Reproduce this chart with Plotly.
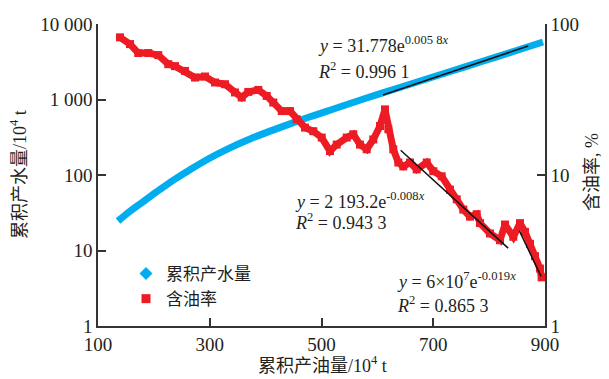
import plotly.graph_objects as go

# Cumulative water production (10^4 t) vs cumulative oil production (10^4 t)
water_x = [135.8, 157.3, 184.1, 211.0, 237.8, 264.7, 300.4, 336.2, 372.0, 407.8,
           443.6, 479.4, 524.2, 577.9, 631.5, 685.2, 738.9, 792.6, 846.3, 896.4]
water_y = [24.6, 33.2, 46.2, 64.3, 88.1, 117.5, 168, 229, 300, 381,
           476, 590, 760, 1030, 1377, 1841, 2459, 3286, 4388, 5776]

# Oil cut (%) vs cumulative oil production
oil_x = [139.4, 157.3, 172.1, 190.0, 207.9, 225.8, 237.8, 255.7, 273.6, 291.5,
         309.4, 327.3, 345.2, 357.2, 369.0, 386.9, 401.9, 413.7, 428.8, 443.6,
         455.6, 470.5, 485.3, 500.4, 515.2, 527.2, 545.1, 556.9, 568.9, 580.9,
         592.7, 604.7, 613.6, 619.6, 628.5, 637.5, 646.4, 658.4, 670.4, 688.3,
         700.1, 715.1, 730.0, 742.0, 753.8, 765.8, 777.8, 783.7, 801.6, 819.5,
         828.4, 843.3, 855.3, 864.2, 873.2, 882.1, 891.0, 894.0]
oil_y = [81.6, 73.6, 64.2, 64.2, 62.2, 54.2, 52.6, 48.9, 44.2, 44.9,
         41.0, 39.9, 35.2, 32.6, 35.5, 36.6, 33.4, 30.2, 26.5, 26.5,
         23.4, 20.6, 19.5, 17.7, 14.4, 15.9, 17.7, 18.6, 15.9, 14.8,
         17.2, 21.1, 27.2, 20.1, 14.8, 12.1, 11.4, 12.1, 10.9, 12.1,
         10.6, 9.8, 8.0, 6.9, 5.9, 5.3, 5.5, 4.8, 4.1, 3.7,
         4.7, 3.9, 4.8, 4.2, 3.5, 2.9, 2.4, 2.1]

# Trend line end points
trend_water_x = [610, 870]
trend_water_y = [1148, 5115]
trend_oil1_x = [641.7, 834]
trend_oil1_y = [14.6, 3.28]
trend_oil2_x = [854, 893]
trend_oil2_y = [4.28, 2.13]

left_ticks = [1, 10, 100, 1000, 10000]
left_text = ["1", "10", "100", "1 000", "10 000"]
right_ticks = [1, 10, 100]
right_text = ["1", "10", "100"]
x_ticks = [100, 300, 500, 700, 900]

BLUE = "#00AEEF"
RED = "#ED1C24"
AX = "#333333"
TXT = "#231F20"
FONT = "Liberation Serif, Noto Sans CJK SC, serif"

fig = go.Figure()
fig.add_trace(go.Scatter(x=water_x, y=water_y, mode="lines",
                         line=dict(color=BLUE, width=7, shape="spline", smoothing=1),
                         showlegend=False, yaxis="y"))
fig.add_trace(go.Scatter(x=oil_x, y=oil_y, mode="lines+markers",
                         line=dict(color=RED, width=7),
                         marker=dict(symbol="square", size=8, color=RED),
                         showlegend=False, yaxis="y2"))
for tx, ty, ax in [(trend_water_x, trend_water_y, "y"),
                   (trend_oil1_x, trend_oil1_y, "y2"),
                   (trend_oil2_x, trend_oil2_y, "y2")]:
    fig.add_trace(go.Scatter(x=tx, y=ty, mode="lines",
                             line=dict(color="#111111", width=1.5),
                             showlegend=False, yaxis=ax))
# legend entries
fig.add_trace(go.Scatter(x=[None], y=[None], mode="markers", name="累积产水量",
                         marker=dict(symbol="diamond", size=10, color=BLUE)))
fig.add_trace(go.Scatter(x=[None], y=[None], mode="markers", name="含油率",
                         marker=dict(symbol="square", size=9, color=RED)))

def px2x(px):
    return (px - 98) / 447.0

def py2y(py):
    return (326 - py) / 302.0

ann = []
def add(text, px, py, size=18, xanchor="left", angle=0):
    ann.append(dict(text=text, x=px2x(px), y=py2y(py), xref="paper", yref="paper",
                    xanchor=xanchor, yanchor="middle", showarrow=False,
                    textangle=angle, font=dict(size=size, color=TXT, family=FONT)))

add("<i>y</i> = 31.778e<sup>0.005 8<i>x</i></sup>", 316, 44)
add("<i>R</i><sup>2</sup> = 0.996 1", 316, 70)
add("<i>y</i> = 2 193.2e<sup>-0.008<i>x</i></sup>", 293, 200)
add("<i>R</i><sup>2</sup> = 0.943 3", 293, 221)
add("<i>y</i> = 6×10<sup>7</sup>e<sup>-0.019<i>x</i></sup>", 395, 280)
add("<i>R</i><sup>2</sup> = 0.865 3", 395, 304)
add("累积产水量/10<sup>4</sup> t", 18, 175, xanchor="center", angle=-90)
add("含油率, %", 592, 172, xanchor="center", angle=-90)
add("累积产油量/10<sup>4</sup> t", 322, 364, xanchor="center")

fig.update_layout(
    width=609, height=379,
    margin=dict(l=98, r=64, t=24, b=53),
    paper_bgcolor="white", plot_bgcolor="white",
    font=dict(family=FONT, size=18, color=TXT),
    annotations=ann,
    legend=dict(x=px2x(126), y=py2y(256), xanchor="left", yanchor="top",
                bgcolor="rgba(0,0,0,0)", font=dict(size=17, color=TXT, family=FONT),
                itemwidth=30, tracegroupgap=0),
    xaxis=dict(range=[100, 900], tickvals=x_ticks, ticks="inside", ticklen=8,
               tickwidth=1.5, tickcolor=AX, showline=True, linecolor=AX, linewidth=1.5,
               showgrid=False, zeroline=False, mirror=False,
               tickfont=dict(size=19, color=TXT, family=FONT)),
    yaxis=dict(type="log", range=[0, 4], tickvals=left_ticks, ticktext=left_text,
               ticks="inside", ticklen=8, tickwidth=1.5, tickcolor=AX,
               showline=True, linecolor=AX, linewidth=1.5, showgrid=False,
               zeroline=False, tickfont=dict(size=19, color=TXT, family=FONT)),
    yaxis2=dict(type="log", range=[0, 2], tickvals=right_ticks, ticktext=right_text,
                overlaying="y", side="right", ticks="inside", ticklen=8, tickwidth=1.5,
                tickcolor=AX, showline=True, linecolor=AX, linewidth=1.5,
                showgrid=False, zeroline=False,
                tickfont=dict(size=19, color=TXT, family=FONT)),
)

fig.write_html("out.html", config={"displayModeBar": False},
               post_script="document.body.style.margin='0';document.body.style.overflow='hidden';")
